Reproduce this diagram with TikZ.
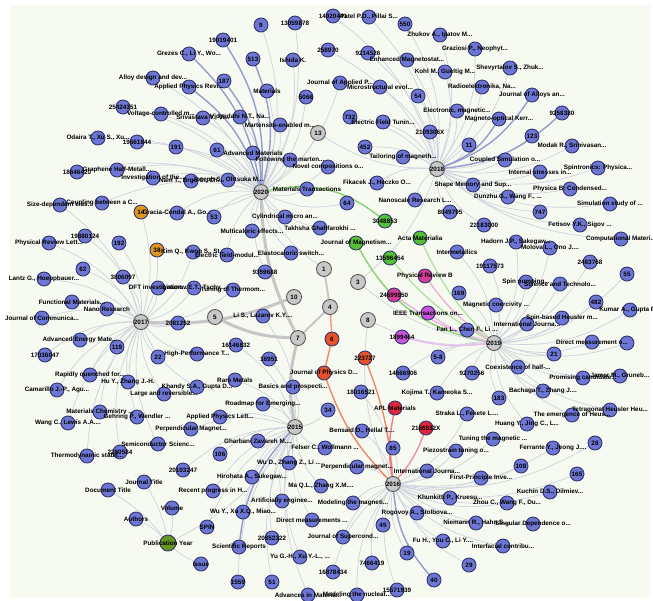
\documentclass[tikz,border=0pt]{standalone}
\usepackage{fontspec}
\setmainfont{Liberation Sans}
\pgfdeclarelayer{bg}
\pgfsetlayers{bg,main}
\definecolor{canvas}{RGB}{247,250,240}
\definecolor{edgec}{RGB}{206,210,222}
\definecolor{edgeb}{RGB}{150,158,205}
\definecolor{paperc}{RGB}{110,118,212}
\definecolor{paperd}{RGB}{48,52,110}
\definecolor{hubc}{RGB}{200,200,200}
\definecolor{hubd}{RGB}{85,85,85}
\definecolor{orangec}{RGB}{224,150,30}
\definecolor{greenc}{RGB}{84,192,52}
\definecolor{magentac}{RGB}{212,62,150}
\definecolor{violetc}{RGB}{200,84,215}
\definecolor{redc}{RGB}{226,40,56}
\definecolor{rustc}{RGB}{232,82,40}
\definecolor{olivec}{RGB}{102,150,32}
\def\trunc{...}

\def\yearA{a1/223/40/19019401, a2/261/25/9, a3/295/23/13059878,
  a4/189/54/{Grezes C., Li Y., Wo\trunc}, a5/153/78/{Alloy design and dev\trunc},
  a6/189/87/{Applied Physics Revi\trunc}, a7/253/59/513, a8/293/60/{Ishida K.},
  a9/224/81/187, a10/267/91/Materials, a11/123/107/25424351,
  a12/161/114/{Voltage-controlled m\trunc}, a13/203/118/{Srivastava V., Vi\trunc},
  a14/240/117/{Vidyadahi N.T., Na\trunc}, a15/280/125/{Martensite-enabled m\trunc},
  a16/306/97/5066, a17/98/138/{Odaira T., Xu S., Xu\trunc}, a18/137/142/19661844,
  a19/176/147/191, a20/217/150/61, a21/253/153/{Advanced Materials},
  a22/290/160/{Following the marten\trunc}, a23/328/167/{Novel compositions o\trunc},
  a24/77/172/18646420, a25/117/170/{Graphene Half-Metall\trunc},
  a26/153/178/{Investigation of the\trunc}, a27/191/181/{Nam T., Brgo C., Ch\trunc},
  a28/228/180/{Joseph S., Ohtsuka M\trunc}, a29/307/189/{Materials Transactions},
  a30/347/203/64, a31/285/217/{Cylindrical micro an\trunc},
  a32/252/231/{Multicaloric effects\trunc}, a33/320/228/{Takhsha Ghahfarokhi \trunc},
  a34/291/253/{Elastocaloric switch\trunc}, a35/214/217/53,
  a36/177/213/{Gracia-Condal A., Go\trunc}, a37/227/255/{Electric field-modul\trunc},
  a38/265/272/9359688, a39/340/83/{Journal of Applied P\trunc},
  a40/102/203/{Coupling between a C\trunc}}

\def\yearB{b1/333/16/14920441, b2/369/17/{Patel P.D., Pillai S\trunc}, b3/405/24/550,
  b4/440/35/{Zhukov A., Ipatov M\trunc}, b5/328/50/258970, b6/368/53/9214526,
  b7/407/60/{Enhanced Magnetostat\trunc}, b8/445/72/{Kohl M., Gueltig M\trunc},
  b9/475/49/{Graziosi P., Neophyt\trunc}, b10/510/68/{Shevyrtalov S., Zhuk\trunc},
  b11/482/87/{Radioelektronika, Na\trunc}, b12/532/95/{Journal of Alloys an\trunc},
  b13/562/113/9258380, b14/499/119/{Magneto-optical Kerr\trunc},
  b15/457/111/{Electronic, magnetic\trunc}, b16/418/96/54,
  b17/380/87/{Microstructural evol\trunc}, b18/383/122/{Electric Field Tunin\trunc},
  b19/350/117/732, b20/430/132/2109306X, b21/365/147/452,
  b22/403/157/{Tailoring of magneth\trunc}, b23/469/145/11, b24/532/136/123,
  b25/572/146/{Modak R., Srinivasan\trunc}, b26/505/160/{Coupled Simulation o\trunc},
  b27/540/172/{Internal stresses in\trunc}, b28/598/168/{Spintronics: Physica\trunc},
  b29/570/189/{Physica B: Condensed\trunc}, b30/473/185/{Shape Memory and Sup\trunc},
  b31/508/197/{Dunzhu G., Wang F., \trunc}, b32/610/204/{Simulation study of \trunc},
  b33/377/183/{Fikacek J., Heczko O\trunc}, b34/415/200/{Nanoscale Research L\trunc},
  b35/450/212/8049795, b36/540/212/747, b37/484/225/22183000,
  b38/580/225/{Fetisov Y.K., Sigov \trunc}, b39/621/239/{Computational Materi\trunc}}

\def\yearC{c1/60/205/{Size-dependent elas\trunc}, c2/49/243/{Physical Review Lett\trunc},
  c3/85/236/19880124, c4/119/243/192, c5/83/269/62,
  c6/44/279/{Lantz G., Hoeppbauer\trunc}, c7/123/277/3806097,
  c8/158/288/{DFT investigation\trunc}, c9/194/288/{Lisunov E.T., Tschy\trunc},
  c10/233/290/{Tuning of Thermom\trunc}, c11/72/302/{Functional Materials\trunc},
  c12/107/309/{Nano Research}, c13/42/318/{Journal of Communica\trunc},
  c14/178/323/2081252, c15/80/340/{Advanced Energy Mate\trunc}, c16/117/347/119,
  c17/45/355/17036047, c18/158/357/22, c19/197/354/{High-Performance T\trunc},
  c20/90/375/{Rapidly quenched for\trunc}, c21/128/382/{Hu Y., Zhang J.-H.},
  c22/57/390/{Camarillo J.-P., Agu\trunc}, c23/197/387/{Khandy S.A., Gupta D\trunc},
  c24/164/394/{Large and reversible\trunc}, c25/100/412/{Materials Chemistry \trunc},
  c26/137/417/{Gehring P., Wendler \trunc}, c27/68/423/{Wang C., Lewis A.A.\trunc},
  c28/158/444/{Semiconductor Scienc\trunc}, c29/87/456/{Thermodynamic stabil\trunc},
  c30/120/452/2280584, c31/193/252/{Kim Q., Kwon S., St\trunc}}

\def\yearD{d1/220/417/{Applied Physics Lett\trunc}, d2/191/429/{Perpendicular Magnet\trunc},
  d3/183/470/20103247, d4/213/491/{Recent progress in H\trunc}, d5/207/527/SPIN,
  d6/243/512/{Wu Y., Xu X.Q., Miao\trunc}, d7/239/547/{Scientific Reports},
  d8/263/404/{Roadmap for Emerging\trunc}, d9/235/380/{Rare Metals},
  d10/293/387/{Basics and prospecti\trunc}, d11/236/345/16146832, d12/269/359/16951,
  d13/328/410/34, d14/258/441/{Gharbani Zavareh M.\trunc}, d15/220/454/106,
  d16/325/448/{Felser C., Wollmann \trunc}, d17/289/463/{Wu D., Zhang Z., Li \trunc},
  d18/252/477/{Hirohata A., Sukegaw\trunc}, d19/321/486/{Ma Q.L., Zhang X.M.\trunc},
  d20/282/501/{Artificially enginee\trunc}, d21/312/520/{Direct measurements \trunc},
  d22/272/538/20852322, d23/300/557/{Yu G.-H., Xu Y.-L., \trunc}, d24/238/582/1559,
  d25/272/582/51, d26/308/595/{Advances in Materia\trunc},
  d27/263/316/{Li S., Lazarev K.Y.\trunc}}

\def\yearE{e1/361/392/18016521, e2/362/431/{Bensaid D., Hellal T.\trunc}, e3/393/448/85,
  e4/357/467/{Perpendicular magnet\trunc}, e5/427/471/{International Journa\trunc},
  e6/353/503/{Modeling the magneti\trunc}, e7/450/498/{Khunkitti P., Kruesu\trunc},
  e8/417/513/{Rogovoy A., Stolbova\trunc}, e9/383/525/45,
  e10/343/537/{Journal of Supercond\trunc}, e11/443/541/{Fu H., You C., Li Y.\trunc},
  e12/407/553/19, e13/372/563/7466419, e14/333/572/16878434, e15/434/580/40,
  e16/397/590/15571939, e17/357/595/{Modeling the nucleat\trunc},
  e18/467/414/{Straka L., Fekete L.\trunc}, e19/493/439/{Tuning the magnetic \trunc},
  e20/456/451/{Piezostrain tuning o\trunc}, e21/481/478/{First-Principle Inve\trunc},
  e22/507/503/{Zhou C., Wang F., Du\trunc}, e23/476/523/{Niemann R., Hahn S\trunc},
  e24/533/524/{Singular Dependence o\trunc}, e25/503/546/{Interfacial contribu\trunc},
  e26/469/565/29, e27/550/492/{Kuchin D.S., Dilmiev\trunc}, e28/521/466/108,
  e29/577/474/165, e30/553/448/{Ferrante Y., Jeong J.\trunc}, e31/595/443/28}

\def\yearF{f1/516/242/{Hadorn J.P., Sakegaw\trunc}, f2/550/248/{Molova L., Ono J.\trunc},
  f3/457/252/Intermetallics, f4/490/266/19117573, f5/590/262/2483768,
  f6/627/274/55, f7/526/282/{Spin pumping\trunc}, f8/560/284/{Science and Technolo\trunc},
  f9/459/293/169, f10/596/302/482, f11/630/310/{Kumar A., Gupta R\trunc},
  f12/496/305/{Magnetic coercivity \trunc}, f13/562/318/{Spin-based Heusler m\trunc},
  f14/527/324/{International Journa\trunc}, f15/467/330/{Fan L., Chen F., Li \trunc},
  f16/592/342/{Direct measurement o\trunc}, f17/627/343/{}, f18/438/357/5-8,
  f19/554/354/21, f20/518/367/{Coexistence of half-\trunc}, f21/472/373/9270256,
  f22/583/378/{Promising candidate\trunc}, f23/620/376/{Jamer M., Gruneb\trunc},
  f24/543/391/{Bachaga T., Zhang J.\trunc}, f25/499/398/183,
  f26/437/393/{Kojima T., Kameoka S\trunc}, f27/403/373/14666906,
  f28/572/415/{The emergence of Heus\trunc}, f29/610/410/{Tetragonal Heusler Heu\trunc},
  f30/527/424/{Huang Y., Jing C., L\trunc}}

\def\metaQ{q1/108/490/{Document Title}, q2/144/482/{Journal Title}, q3/136/519/Authors,
  q4/172/508/Volume, q5/201/564/Issue}

\begin{document}
\begin{tikzpicture}[x=0.02cm, y=-0.02cm,
    dot/.style={circle, draw, line width=0.5pt, minimum size=0.28cm, inner sep=0pt},
    paper/.style={dot, fill=paperc, draw=paperd},
    hub/.style={dot, fill=hubc, draw=hubd, minimum size=0.3cm,
                font=\fontsize{3.6}{4}\bfseries\selectfont},
    tinted/.style={dot, fill=#1, draw=paperd},
    lbl/.style={font=\fontsize{3.6}{4}\bfseries\selectfont, inner sep=0pt},
    edge/.style={draw=edgec, line width=0.4pt},
    bold edge/.style={draw=edgeb, line width=0.8pt},
    heavy/.style={draw=gray!45, line width=1.7pt},
    tie/.style={draw=#1, line width=0.8pt}
  ]
    \useasboundingbox (0,0) rectangle (653,600);

    \node[hub] (y20) at (261,192) {2020};
    \node[hub] (y18) at (437,169) {2018};
    \node[hub] (y17) at (141,322) {2017};
    \node[hub] (y19) at (494,343) {2019};
    \node[hub] (y15) at (295,427) {2015};
    \node[hub] (y16) at (393,484) {2016};
    \node[hub] (k13) at (318,133) {13};
    \node[hub] (k1) at (324,269) {1};
    \node[hub] (k3) at (358,282) {3};
    \node[hub] (k10) at (294,297) {10};
    \node[hub] (k4) at (330,307) {4};
    \node[hub] (k5) at (215,317) {5};
    \node[hub] (k8) at (368,320) {8};
    \node[hub] (k7) at (298,338) {7};

    \foreach \n/\x/\y/\t in \yearA \node[paper] (\n) at (\x,\y) {};
    \foreach \n/\x/\y/\t in \yearB \node[paper] (\n) at (\x,\y) {};
    \foreach \n/\x/\y/\t in \yearC \node[paper] (\n) at (\x,\y) {};
    \foreach \n/\x/\y/\t in \yearD \node[paper] (\n) at (\x,\y) {};
    \foreach \n/\x/\y/\t in \yearE \node[paper] (\n) at (\x,\y) {};
    \foreach \n/\x/\y/\t in \yearF \node[paper] (\n) at (\x,\y) {};
    \foreach \n/\x/\y/\t in \metaQ \node[paper] (\n) at (\x,\y) {};

    \node[tinted=rustc] (s6) at (332,339) {};
    \node[tinted=rustc] (jpd) at (324,373) {};
    \node[tinted=rustc] (s223) at (365,358) {};
    \node[tinted=orangec] (o14) at (141,212) {};
    \node[tinted=orangec] (o38) at (157,250) {};
    \node[tinted=greenc] (g1) at (385,221) {};
    \node[tinted=greenc] (g2) at (356,243) {};
    \node[tinted=greenc] (g3) at (390,258) {};
    \node[tinted=greenc] (g4) at (420,238) {};
    \node[tinted=magentac] (m1) at (425,276) {};
    \node[tinted=magentac] (m2) at (394,295) {};
    \node[tinted=violetc] (v1) at (428,313) {};
    \node[tinted=violetc] (v2) at (402,337) {};
    \node[tinted=redc] (r1) at (395,408) {};
    \node[tinted=redc] (r2) at (426,428) {};
    \node[tinted=olivec, minimum size=0.32cm] (pub) at (168,543) {};

    \foreach \n/\x/\y/\t in \yearA \node[lbl] (\n-t) at (\n) {\t};
    \foreach \n/\x/\y/\t in \yearB \node[lbl] (\n-t) at (\n) {\t};
    \foreach \n/\x/\y/\t in \yearC \node[lbl] (\n-t) at (\n) {\t};
    \foreach \n/\x/\y/\t in \yearD \node[lbl] (\n-t) at (\n) {\t};
    \foreach \n/\x/\y/\t in \yearE \node[lbl] (\n-t) at (\n) {\t};
    \foreach \n/\x/\y/\t in \yearF \node[lbl] (\n-t) at (\n) {\t};
    \foreach \n/\x/\y/\t in \metaQ \node[lbl] (\n-t) at (\n) {\t};
    \foreach \n/\t in {s6/6, jpd/{Journal of Physics D\trunc}, s223/223727, o14/14, o38/38,
        g1/3048853, g2/{Journal of Magnetism\trunc}, g3/13596454, g4/{Acta Materialia},
        m1/{Physical Review B}, m2/24699950, v1/{IEEE Transactions on\trunc}, v2/1899464,
        r1/{APL Materials}, r2/2166532X, pub/{Publication Year}}
      \node[lbl] (\n-t) at (\n) {\t};

    \begin{pgfonlayer}{bg}
      \fill[canvas] (10,5) rectangle (650,598);
      \foreach \i in {1,...,40} \draw[edge] (y20) to[bend right=18] (a\i);
      \foreach \i in {1,...,39} \draw[edge] (y18) to[bend right=18] (b\i);
      \foreach \i in {1,...,31} \draw[edge] (y17) to[bend right=18] (c\i);
      \foreach \i in {1,...,27} \draw[edge] (y15) to[bend right=18] (d\i);
      \foreach \i in {1,...,31} \draw[edge] (y16) to[bend right=18] (e\i);
      \foreach \i in {1,...,30} \draw[edge] (y19) to[bend right=18] (f\i);
      \foreach \i in {1,...,5} \draw[edge] (pub) to[bend right=10] (q\i);
      \foreach \a/\b in {y20/a1, y20/a4, y20/a6, y20/a9, y20/a7, y18/b12, y18/b13,
          y18/b14, y15/d7, y16/e15}
        \draw[bold edge] (\a) to[bend right=18] (\b);
      \foreach \a/\b in {y20/k13, k13/y18, y20/k1, k3/y18, k3/y19, k8/y19, k8/y16,
          y17/o14, o14/y20, y17/o38, pub/y15, y17/k5}
        \draw[edge] (\a) to[bend right=15] (\b);
      \foreach \a/\b in {y17/k10, k5/k7, y20/k7, k7/y15}
        \draw[heavy] (\a) to[bend right=12] (\b);
      \draw[draw=gray!45, line width=1.1pt] (k1) -- (k4);
      \draw[draw=gray!45, line width=1.1pt] (k4) -- (k7);
      \draw[tie=rustc!60] (k4) -- (s6);
      \draw[tie=rustc!70] (s6) -- (jpd);
      \draw[tie=rustc!70] (jpd) to[bend right=12] (y16);
      \draw[tie=rustc!70] (s223) to[bend left=8] (y16);
      \draw[tie=redc!60] (r1) to[bend right=10] (y16);
      \draw[tie=redc!50] (r2) to[bend left=10] (y16);
      \draw[tie=greenc!70] (y20) to[bend left=25] (g1);
      \draw[tie=greenc!70] (g2) to[bend right=25] (y19);
      \draw[tie=greenc!45] (g4) to[bend right=10] (y19);
      \draw[tie=greenc!45] (g3) to[bend right=10] (y19);
      \draw[tie=magentac!40] (m1) to[bend right=10] (y19);
      \draw[tie=magentac!40] (m2) to[bend right=10] (y19);
      \draw[tie=violetc!40] (v1) to[bend right=10] (y19);
      \draw[tie=violetc!40] (v2) to[bend right=10] (y19);
    \end{pgfonlayer}
  \end{tikzpicture}
\end{document}
